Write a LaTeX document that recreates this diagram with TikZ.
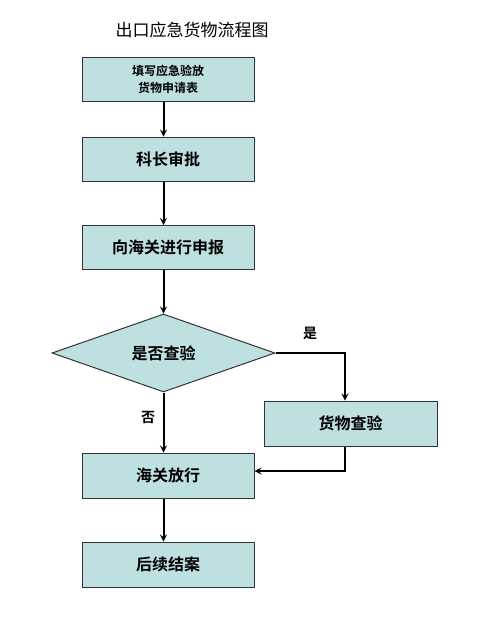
\documentclass[tikz,border=0pt]{standalone}
\usepackage{fontspec}
\setmainfont{Noto Sans CJK SC}[BoldFont={Noto Sans CJK SC Bold}]
\usetikzlibrary{shapes.geometric}
\definecolor{boxfill}{HTML}{BFE0E1}
\definecolor{boxline}{HTML}{333333}
\tikzset{
  stepbox/.style={draw=boxline, fill=boxfill, line width=1pt, minimum width=172pt, minimum height=44pt, inner sep=0pt, font=\bfseries\fontsize{16pt}{18pt}\selectfont},
  decide/.style={diamond, draw=boxline, fill=boxfill, line width=1pt, aspect=2.86, minimum width=223pt, minimum height=78pt, inner sep=0pt, font=\bfseries\fontsize{16pt}{18pt}\selectfont},
  flow/.style={->, >=stealth, line width=2pt},
  lbl/.style={font=\bfseries\fontsize{14pt}{16pt}\selectfont}
}
\begin{document}
\begin{tikzpicture}[x=1pt, y=-1pt]
    \useasboundingbox (0,0) rectangle (486,619);
    \node (title) at (192,30) {\fontsize{17pt}{19pt}\selectfont 出口应急货物流程图};
    \node [stepbox, align=center, font=\bfseries\fontsize{12pt}{17pt}\selectfont] (fill) at (168,79) {填写应急验放\\货物申请表};
    \node [stepbox] (approve) at (168,159) {科长审批};
    \node [stepbox] (declare) at (168,247.5) {向海关进行申报};
    \node [decide] (check) at (163.5,353) {是否查验};
    \node [stepbox, minimum width=173pt, minimum height=45pt] (inspect) at (350.5,423.5) {货物查验};
    \node [stepbox, minimum height=45pt] (release) at (168,475.5) {海关放行};
    \node [stepbox, minimum height=45pt] (close) at (168,564.5) {后续结案};
    \coordinate (turn) at (345,471);
    % main column
    \draw [flow] (fill.south -| check) -- (approve.north -| check);
    \draw [flow] (approve.south -| check) -- (declare.north -| check);
    \draw [flow] (declare.south -| check) -- (check.north);
    \draw [flow] (check.south) -- (release.north -| check) node [lbl, midway, left=4pt, yshift=5pt] {否};
    \draw [flow] (release.south -| check) -- (close.north -| check);
    % inspection branch
    \draw [flow] (check.east) -- (check.east -| turn) -- (inspect.north -| turn);
    \node [lbl] (yes) at (310,333) {是};
    \draw [flow] (inspect.south -| turn) -- (turn) -- (turn -| release.east);
\end{tikzpicture}
\end{document}
